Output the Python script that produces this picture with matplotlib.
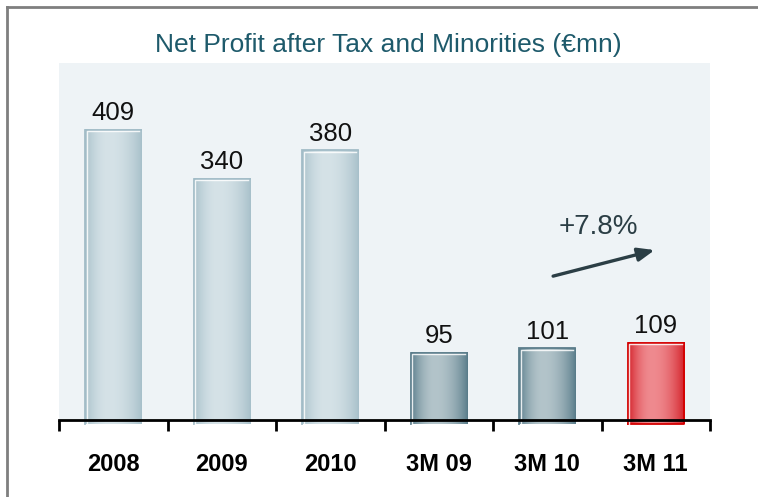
#!/usr/bin/env python3

import numpy as np
import matplotlib.pyplot as plt
import matplotlib.colors as mcolors
from matplotlib.lines import Line2D

plt.rcParams['font.family'] = ['Liberation Sans', 'DejaVu Sans']

categories = ['2008', '2009', '2010', '3M 09', '3M 10', '3M 11']
profit = [409, 340, 380, 95, 101, 109]
growth_label = '+7.8%'
title = 'Net Profit after Tax and Minorities (\u20acmn)'

# edge colour, centre colour, outline colour per bar
light = ('#a6bfc9', '#d5e2e7', '#a2bcc7')
dark = ('#567a88', '#b3c4ca', '#5b7d8b')
red = ('#d21a22', '#ef8a8f', '#d40000')
styles = [light, light, light, dark, dark, red]

fig = plt.figure(figsize=(7.58, 4.97), dpi=100)
ax = fig.add_axes([59 / 758, 1 - 420 / 497, 651 / 758, 357 / 497])
ax.set_facecolor('#eef3f6')

x = np.arange(len(categories))
width = 0.52
bars = ax.bar(x, profit, width=width, color='none', edgecolor='none', zorder=2)

t = np.linspace(0, 1, 200)
prof = np.where(t < 0.42, np.sin(np.pi / 2 * t / 0.42), np.cos(np.pi / 2 * (t - 0.42) / 0.58))
prof = np.clip(prof, 0, 1) ** 0.8

for b, (c_edge, c_mid, c_line) in zip(bars, styles):
    e = np.array(mcolors.to_rgb(c_edge))
    m = np.array(mcolors.to_rgb(c_mid))
    grad = e[None, :] + (m - e)[None, :] * prof[:, None]
    x0, w, h = b.get_x(), b.get_width(), b.get_height()
    im = ax.imshow(grad[None, :, :], extent=[x0, x0 + w, -6, h],
                   aspect='auto', zorder=2, interpolation='bilinear')
    im.set_clip_on(False)
    # outline and inner highlight
    ax.plot([x0, x0, x0 + w], [-6, h, h], color=c_line, lw=1.3, zorder=3,
            clip_on=False, solid_joinstyle='miter')
    if c_line == '#d40000':
        ax.plot([x0 + w, x0 + w, x0], [h, -6, -6], color=c_line, lw=1.3,
                zorder=3, clip_on=False)
    ax.plot([x0 + 0.014, x0 + 0.014, x0 + w - 0.02], [-6, h - 2.3, h - 2.3],
            color='white', lw=1.0, alpha=0.85, zorder=3, clip_on=False)
    ax.text(x0 + w / 2, h + 6.5, str(b.get_height()), ha='center', va='bottom',
            fontsize=18.5, color='#111111')

ax.set_xlim(-0.5, len(categories) - 0.5)
ax.set_ylim(0, 503)

for s in ['top', 'right', 'left']:
    ax.spines[s].set_visible(False)
ax.spines['bottom'].set_linewidth(2)
ax.spines['bottom'].set_zorder(4)
ax.set_yticks([])
ax.set_xticks(x)
ax.set_xticklabels(categories, fontsize=17, fontweight='bold')
ax.set_xticks(np.arange(-0.5, len(categories)), minor=True)
ax.tick_params(axis='x', which='major', length=0, pad=23.5)
ax.tick_params(axis='x', which='minor', length=8, width=2, direction='out')

# growth arrow
ax.annotate('', xy=(0.915, 0.476), xytext=(0.759, 0.403),
            xycoords='axes fraction',
            arrowprops=dict(arrowstyle='-|>,head_length=1.0,head_width=0.4',
                            color='#2b3e45', lw=2.4, shrinkA=0, shrinkB=0))
ax.text(0.829, 0.542, growth_label, transform=ax.transAxes, ha='center',
        va='center', fontsize=20, color='#2b3e45')

fig.text(388 / 758, 1 - 45 / 497, title, ha='center', va='center',
         fontsize=19, color='#1e5a6b')

# outer frame (top and left edges)
fig.add_artist(Line2D([7 / 758, 1], [1 - 7 / 497, 1 - 7 / 497],
                      transform=fig.transFigure, color='#7f7f7f', lw=2))
fig.add_artist(Line2D([7 / 758, 7 / 758], [0, 1 - 7 / 497],
                      transform=fig.transFigure, color='#7f7f7f', lw=2))

plt.savefig('out.png', dpi=100)
